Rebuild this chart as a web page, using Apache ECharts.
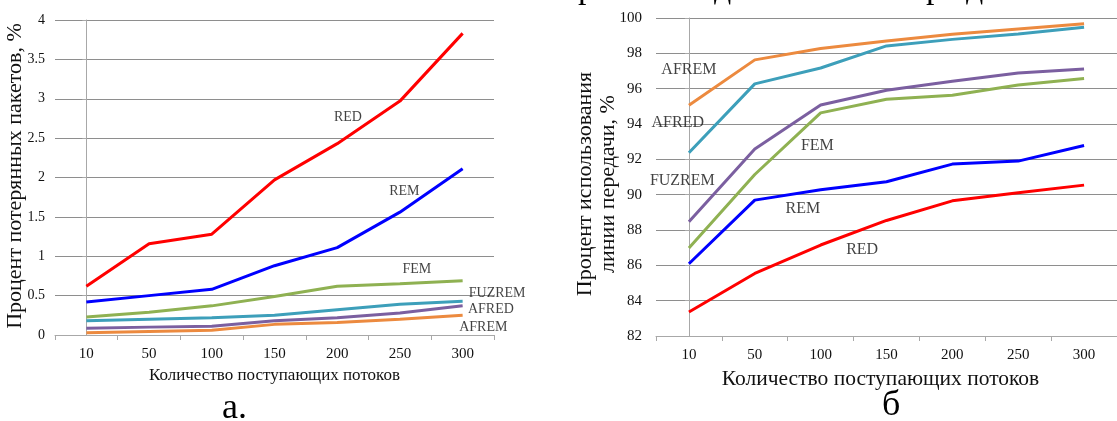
<!DOCTYPE html>
<html><head><meta charset="utf-8">
<script src="https://cdn.jsdelivr.net/npm/echarts@6/dist/echarts.min.js"></script>
<style>html,body{margin:0;padding:0;background:#fff}#c{width:1117px;height:421px}</style>
</head><body><div id="c"></div>
<script>
var categories = ['10','50','100','150','200','250','300'];
var seriesNames = ['RED','REM','FEM','FUZREM','AFRED','AFREM'];
var colorsA = ['#ff0000','#0000ff','#8fb152','#3d9fba','#7b5fa0','#ec8a3f'];
var colorsB = ['#ff0000','#0000ff','#8fb152','#7b5fa0','#3d9fba','#ec8a3f'];

// Chart a: percent of lost packets
var lossRED    = [0.62, 1.16, 1.28, 1.97, 2.43, 2.97, 3.83];
var lossREM    = [0.42, 0.50, 0.58, 0.88, 1.11, 1.56, 2.11];
var lossFEM    = [0.23, 0.29, 0.37, 0.49, 0.62, 0.65, 0.69];
var lossFUZREM = [0.18, 0.20, 0.22, 0.25, 0.32, 0.39, 0.43];
var lossAFRED  = [0.085, 0.10, 0.11, 0.18, 0.22, 0.28, 0.37];
var lossAFREM  = [0.03, 0.045, 0.06, 0.135, 0.16, 0.20, 0.25];

// Chart b: link utilization
var utilRED    = [83.36, 85.54, 87.15, 88.54, 89.65, 90.11, 90.54];
var utilREM    = [86.09, 89.69, 90.28, 90.73, 91.73, 91.90, 92.78];
var utilFEM    = [86.98, 91.14, 94.63, 95.40, 95.63, 96.21, 96.57];
var utilFUZREM = [88.47, 92.59, 95.08, 95.91, 96.42, 96.89, 97.12];
var utilAFRED  = [92.37, 96.27, 97.17, 98.42, 98.79, 99.10, 99.47];
var utilAFREM  = [95.06, 97.63, 98.27, 98.70, 99.08, 99.38, 99.68];

// Series name labels placed in data space: [category position, value, text]
var labelsA = [[4.17, 2.77, 'RED'], [5.07, 1.83, 'REM'], [5.27, 0.83, 'FEM'],
               [6.55, 0.53, 'FUZREM'], [6.45, 0.327, 'AFRED'], [6.33, 0.098, 'AFREM']];
var labelsB = [[0.0, 97.07, 'AFREM'], [-0.17, 94.09, 'AFRED'], [1.95, 92.77, 'FEM'],
               [-0.10, 90.78, 'FUZREM'], [1.73, 89.2, 'REM'], [2.63, 86.87, 'RED']];

var yTitleA = 'Процент потерянных пакетов, %';
var yTitleB = 'Процент использования\nлинии передачи, %';
var xTitle = 'Количество поступающих потоков';

var FONT = '"Liberation Serif", "Times New Roman", serif';
var dataA = [lossRED, lossREM, lossFEM, lossFUZREM, lossAFRED, lossAFREM];
var dataB = [utilRED, utilREM, utilFEM, utilFUZREM, utilAFRED, utilAFREM];

function catAxis(gi, fs, nameSize, pad) {
  return {
    type: 'category', gridIndex: gi, data: categories, boundaryGap: true,
    axisLine: {show: true, lineStyle: {color: '#a8a8a8', width: 1}},
    axisTick: {show: true, length: 5, lineStyle: {color: '#a8a8a8'}},
    axisLabel: {color: '#111', fontFamily: FONT, fontSize: fs, margin: 12},
    name: xTitle, nameLocation: 'middle', nameGap: 31,
    nameTextStyle: {color: '#111', fontFamily: FONT, fontSize: nameSize, padding: pad}
  };
}
function hiddenAxis(gi) {
  return {type: 'value', gridIndex: gi, min: -0.5, max: 6.5, show: false};
}
function valAxis(gi, min, max, interval, fs, margin) {
  return {
    type: 'value', gridIndex: gi, min: min, max: max, interval: interval,
    axisLine: {show: true, lineStyle: {color: '#a8a8a8', width: 1}},
    axisTick: {show: true, length: 4, lineStyle: {color: '#a8a8a8'}},
    splitLine: {show: true, lineStyle: {color: '#8e8e8e', width: 1}},
    axisLabel: {color: '#111', fontFamily: FONT, fontSize: fs, margin: margin}
  };
}

var series = [];
for (var i = 0; i < seriesNames.length; i++) {
  series.push({type: 'line', name: seriesNames[i], xAxisIndex: 0, yAxisIndex: 0,
    data: dataA[i], symbol: 'none', lineStyle: {color: colorsA[i], width: 3}, z: 10 - i});
  series.push({type: 'line', name: seriesNames[i], xAxisIndex: 1, yAxisIndex: 1,
    data: dataB[i], symbol: 'none', lineStyle: {color: colorsB[i], width: 3}, z: 10 - i});
}
function labelSeries(xi, yi, arr, fs) {
  return {type: 'scatter', xAxisIndex: xi, yAxisIndex: yi, symbolSize: 0, clip: false,
    silent: true, z: 20,
    data: arr.map(function (d) { return {value: [d[0], d[1]], name: d[2]}; }),
    label: {show: true, position: 'inside', formatter: '{b}', color: '#111',
      fontFamily: FONT, fontSize: fs}};
}
series.push(labelSeries(2, 0, labelsA, 14));
series.push(labelSeries(3, 1, labelsB, 16));

var chart = echarts.init(document.getElementById('c'), null, {renderer: 'canvas'});
chart.setOption({
  animation: false,
  backgroundColor: '#ffffff',
  grid: [
    {left: 55, top: 20, width: 439, height: 315},
    {left: 656, top: 18, width: 472, height: 318}
  ],
  xAxis: [catAxis(0, 15, 17, [0, 0, 0, 0]), catAxis(1, 15, 21.5, [0, 12, 0, 0]),
          hiddenAxis(0), hiddenAxis(1)],
  yAxis: [valAxis(0, 0, 4, 0.5, 14, 10), valAxis(1, 82, 100, 2, 15, 14)],
  series: series,
  graphic: [
    {type: 'text', x: 15, y: 176, rotation: Math.PI / 2,
      style: {text: yTitleA, font: '22px ' + FONT, fill: '#111', align: 'center', verticalAlign: 'middle'}},
    {type: 'text', x: 597, y: 184, rotation: Math.PI / 2,
      style: {text: yTitleB, font: '22px ' + FONT, lineHeight: 23, fill: '#111', align: 'center', verticalAlign: 'middle'}},
    {type: 'text', left: 222, top: 391, style: {text: 'а.', font: '36px ' + FONT, fill: '#000'}},
    {type: 'text', left: 882, top: 388, style: {text: 'б', font: '36px ' + FONT, fill: '#000'}},
    {type: 'text', x: 578, y: -28, style: {text: 'р', font: '34px ' + FONT, fill: '#000'}},
    {type: 'text', x: 714, y: -28, style: {text: 'д', font: '34px ' + FONT, fill: '#000'}},
    {type: 'text', x: 926, y: -28, style: {text: 'р', font: '34px ' + FONT, fill: '#000'}},
    {type: 'text', x: 966, y: -28, style: {text: 'д', font: '34px ' + FONT, fill: '#000'}}
  ]
});
</script></body></html>
